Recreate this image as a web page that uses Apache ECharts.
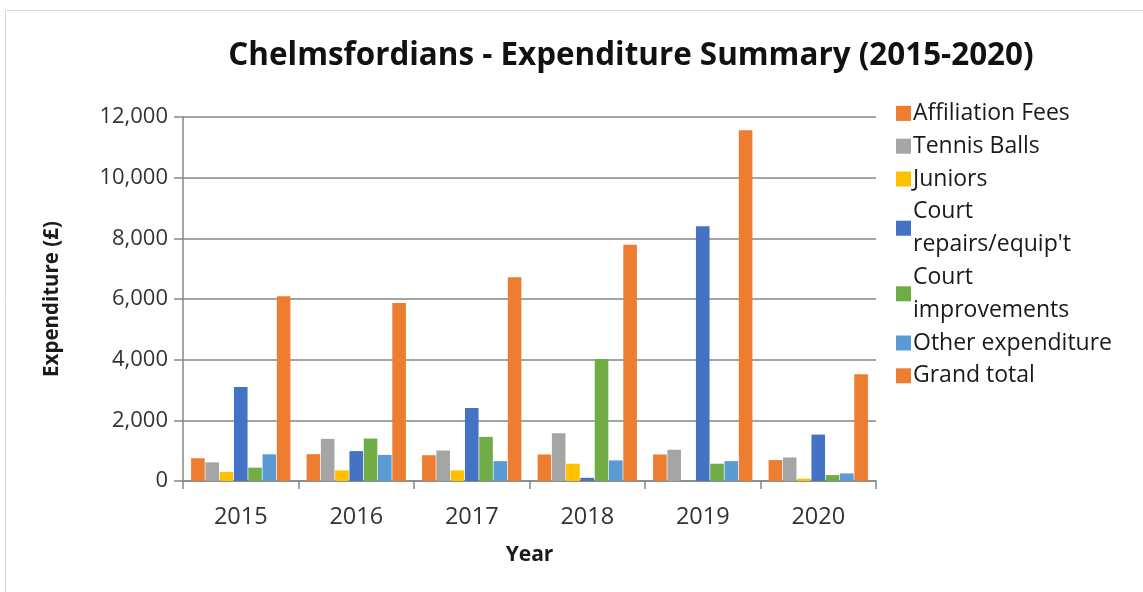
<!DOCTYPE html>
<html><head><meta charset="utf-8">
<script src="https://cdn.jsdelivr.net/npm/echarts@6/dist/echarts.min.js"></script>
<style>html,body{margin:0;padding:0;background:#fff}#c{width:1143px;height:592px}</style>
</head><body><div id="c"></div>
<script>
const years = ['2015','2016','2017','2018','2019','2020'];
const affiliationFees = [750, 885, 850, 875, 875, 690];
const tennisBalls = [615, 1390, 1005, 1575, 1030, 775];
const juniors = [300, 350, 350, 570, 0, 75];
const courtRepairs = [3100, 985, 2405, 105, 8400, 1530];
const courtImprovements = [440, 1400, 1455, 4020, 570, 195];
const otherExpenditure = [880, 860, 655, 680, 655, 250];
const grandTotal = [6090, 5870, 6720, 7790, 11560, 3520];
const yTicks = [0, 2000, 4000, 6000, 8000, 10000, 12000];

const FONT = 'Open Sans';
const names = ['Affiliation Fees','Tennis Balls','Juniors',"Court\nrepairs/equip't",'Court\nimprovements','Other expenditure','Grand total'];
const colors = ['#ED7D31','#A5A5A5','#FFC000','#4472C4','#70AD47','#5B9BD5','#ED7D31'];
const data = [affiliationFees, tennisBalls, juniors, courtRepairs, courtImprovements, otherExpenditure, grandTotal];

const chart = echarts.init(document.getElementById('c'));
chart.setOption({
  animation: false,
  color: colors,
  graphic: [{type:'rect', shape:{x:5.5,y:10.5,width:1200,height:700}, style:{fill:'none', stroke:'#d9d9d9', lineWidth:1}, silent:true}],
  title: {text: 'Chelmsfordians - Expenditure Summary (2015-2020)', left: 626, top: 36, textAlign: 'center',
    textStyle: {fontFamily: FONT, fontWeight: 'bold', fontSize: 31.4, color: '#111'}},
  legend: {orient: 'vertical', left: 891, top: 92, itemGap: 0, itemWidth: 15, itemHeight: 15, icon: 'rect',
    textStyle: {fontFamily: FONT, fontSize: 23, color: '#1a1a1a', lineHeight: 32.8, padding: [0,0,0,-3]},
    data: names},
  grid: {left: 183, right: 267, top: 117, bottom: 111, containLabel: false},
  xAxis: {type: 'category', data: years, name: 'Year', nameLocation: 'middle', nameGap: 64,
    nameTextStyle: {fontFamily: FONT, fontWeight: 'bold', fontSize: 21, color: '#1a1a1a'},
    axisLine: {lineStyle: {color: '#868686', width: 1.5}},
    axisTick: {show: true, length: 8, lineStyle: {color: '#868686', width: 1.5}},
    axisLabel: {fontFamily: FONT, fontSize: 23.5, color: '#333', margin: 24}},
  yAxis: {type: 'value', min: yTicks[0], max: yTicks[yTicks.length-1], interval: 2000,
    name: 'Expenditure (£)', nameLocation: 'middle', nameGap: 120, nameRotate: 90,
    nameTextStyle: {fontFamily: FONT, fontWeight: 'bold', fontSize: 20.5, color: '#1a1a1a'},
    axisLine: {show: true, lineStyle: {color: '#868686', width: 1.5}},
    axisTick: {show: true, length: 9, lineStyle: {color: '#868686', width: 1.5}},
    splitLine: {lineStyle: {color: '#868686', width: 1.5}},
    axisLabel: {fontFamily: FONT, fontSize: 22, color: '#333', margin: 15,
      formatter: v => v.toLocaleString('en-GB')}},
  series: data.map((d, i) => ({
    type: 'bar', name: names[i], data: d, barGap: '5%', barCategoryGap: '14%',
    itemStyle: {color: colors[i]}
  }))
});
</script></body></html>
